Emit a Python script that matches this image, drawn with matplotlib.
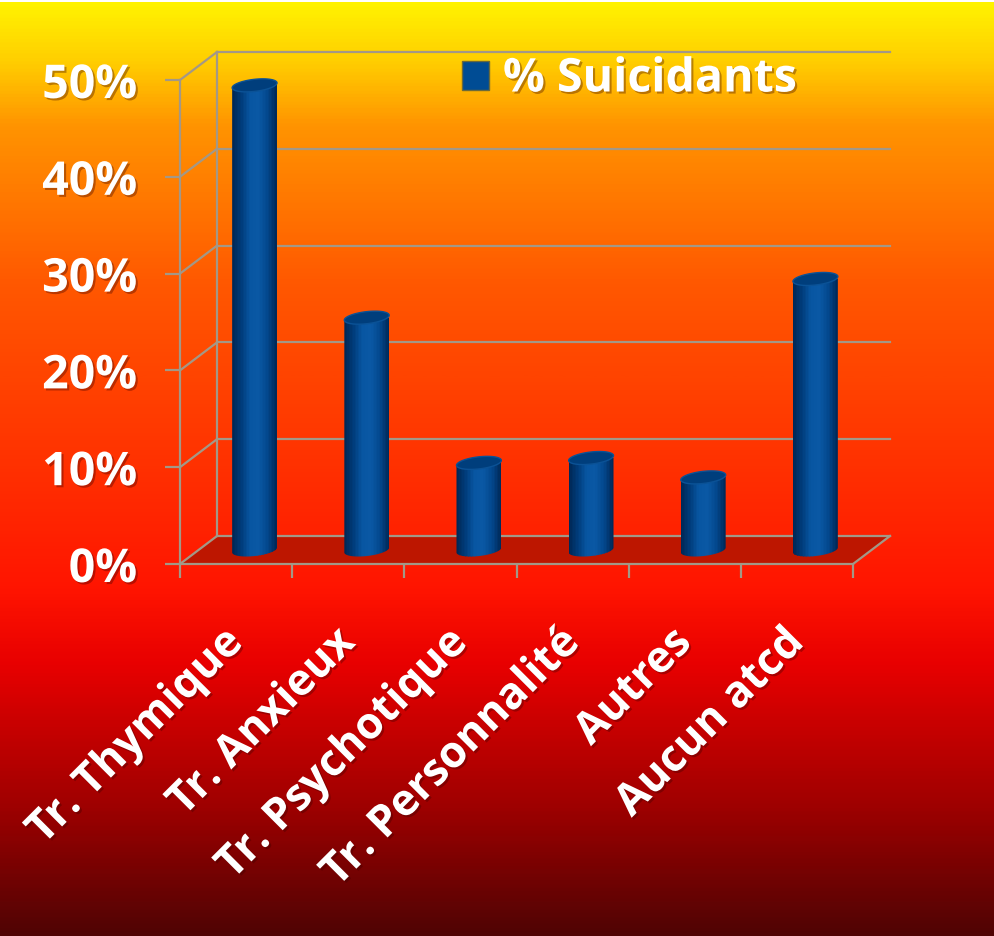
import numpy as np
import matplotlib.pyplot as plt
import matplotlib.patheffects as pe
from matplotlib.colors import LinearSegmentedColormap
from matplotlib.patches import Polygon, Patch
from matplotlib.transforms import ScaledTranslation

categories = ['Tr. Thymique', 'Tr. Anxieux', 'Tr. Psychotique',
              'Tr. Personnalité', 'Autres', 'Aucun atcd']
suicidants = [48, 24, 9, 9.5, 7.5, 28]
y_ticks = [0, 10, 20, 30, 40, 50]
y_labels = ['0%', '10%', '20%', '30%', '40%', '50%']
series_name = '% Suicidants'

plt.rcParams['font.family'] = ['Open Sans', 'DejaVu Sans']
plt.rcParams['font.weight'] = 'bold'

grid_c = '#a39887'
shadow = [pe.withSimplePatchShadow(offset=(1.5, -1.5), shadow_rgbFace='#3a0000', alpha=0.35)]
font_sz = 33.5
xlab_sz = 31.5

fig = plt.figure(figsize=(9.94, 9.37), dpi=100, facecolor='white')

# fond dégradé jaune -> orange -> rouge -> bordeaux
bg_cmap = LinearSegmentedColormap.from_list('fond', [
    (0.0, '#fff200'), (0.06, '#ffcf00'), (0.13, '#ff9400'), (0.30, '#ff5800'),
    (0.50, '#ff3000'), (0.63, '#ff1400'), (0.71, '#e80000'), (0.86, '#a00000'),
    (1.0, '#500404')])
bg = fig.add_axes([0, 0, 1, 1 - 3 / 937])
bg.imshow(np.linspace(0, 1, 600).reshape(-1, 1), cmap=bg_cmap, aspect='auto')
bg.axis('off')

# axes "avant" du graphique 3D
ax = fig.add_axes([180 / 994, 372 / 937, 673 / 994, 484 / 937])
ax.set_xlim(-0.5, len(categories) - 0.5)
ax.set_ylim(0, 50)
ax.patch.set_alpha(0)
for s in ['top', 'right']:
    ax.spines[s].set_visible(False)
for s in ['left', 'bottom']:
    ax.spines[s].set_color(grid_c)
    ax.spines[s].set_linewidth(1.6)

# décalages de profondeur (mur du fond, milieu des barres)
back = ax.transData + ScaledTranslation(0.37, 0.28, fig.dpi_scale_trans)
mid = ax.transData + ScaledTranslation(0.185, 0.14, fig.dpi_scale_trans)


def to_back(x, y):
    return ax.transData.inverted().transform(back.transform((x, y)))


x_lo, x_hi = -0.5, len(categories) - 0.5

# sol
bl = to_back(x_lo, 0)
br = to_back(x_hi, 0)
floor = Polygon([(x_lo, 0), (x_hi, 0), br, bl], closed=True, facecolor='#bd1600',
                edgecolor='none', clip_on=False, zorder=1)
ax.add_patch(floor)

# quadrillage du mur du fond et du mur de gauche
for v in y_ticks:
    ax.plot([x_lo, x_hi], [v, v], transform=back, color=grid_c, lw=1.6,
            clip_on=False, zorder=2)
    b = to_back(x_lo, v)
    ax.plot([x_lo, b[0]], [v, b[1]], color=grid_c, lw=1.6, clip_on=False, zorder=2)
ax.plot([x_lo, x_lo], [0, 50], transform=back, color=grid_c, lw=1.6,
        clip_on=False, zorder=2)
ax.plot([x_hi, br[0]], [0, br[1]], color=grid_c, lw=1.6, clip_on=False, zorder=2)

# cylindres
bar_w = 0.4
cap_h = 1.25
tilt = 0.25
n_strips = 30
shade = LinearSegmentedColormap.from_list('cyl', [
    '#002856', '#003d7c', '#0856a2', '#0a58a4', '#03488e', '#002a5a'])
t = np.linspace(0, np.pi, 60)
for i, v in enumerate(suicidants):
    x0 = i - bar_w / 2
    x1 = i + bar_w / 2
    bottom = np.column_stack([i + bar_w / 2 * np.cos(t),
                              -cap_h / 2 * np.sin(t) + tilt * np.cos(t)])
    outline = np.vstack([[x0, v - tilt], [x1, v + tilt], bottom])
    clip = Polygon(outline, closed=True, transform=mid)
    xs = x0 + (np.arange(n_strips) + 0.5) * bar_w / n_strips
    strips = ax.bar(xs, v + cap_h + tilt, width=bar_w / n_strips * 1.1,
                    bottom=-cap_h - tilt, color=shade(np.linspace(0, 1, n_strips)),
                    linewidth=0, transform=mid, zorder=3)
    for st in strips:
        st.set_clip_box(None)
        st.set_clip_path(clip)
    top = np.column_stack([i + bar_w / 2 * np.cos(2 * t),
                           v + cap_h / 2 * np.sin(2 * t) + tilt * np.cos(2 * t)])
    ax.add_patch(Polygon(top, closed=True, transform=mid, facecolor='#003e7c',
                         edgecolor='#0b5296', lw=1.0, zorder=4, clip_on=False))

# axes, graduations et étiquettes
ax.set_yticks(y_ticks, y_labels)
ax.tick_params(axis='y', direction='out', length=11, width=1.6, color=grid_c,
               pad=20, labelsize=font_sz, labelcolor='white')
ax.set_xticks(np.arange(x_lo, x_hi + 0.1, 1.0), [])
ax.set_xticks(range(len(categories)), categories, minor=True)
ax.tick_params(axis='x', which='major', direction='out', length=10, width=1.6,
               color=grid_c)
ax.tick_params(axis='x', which='minor', length=0, pad=52, labelsize=xlab_sz,
               labelcolor='white')
for lbl in ax.get_yticklabels():
    lbl.set_path_effects(shadow)
for lbl in ax.get_xticklabels(minor=True):
    lbl.set_rotation(45)
    lbl.set_ha('right')
    lbl.set_va('center')
    lbl.set_rotation_mode('anchor')
    lbl.set_path_effects(shadow)

# légende
handle = Patch(facecolor='#004c94', edgecolor='#6b6a3a', linewidth=1)
leg = fig.legend([handle], [series_name], loc='center left',
                 bbox_to_anchor=(462 / 994, 1 - 80 / 937), frameon=False,
                 fontsize=font_sz, labelcolor='white', handlelength=0.58,
                 handleheight=0.58, handletextpad=0.3, borderpad=0, borderaxespad=0)
for txt in leg.get_texts():
    txt.set_path_effects(shadow)

fig.savefig('out.png', dpi=100, facecolor='white')
